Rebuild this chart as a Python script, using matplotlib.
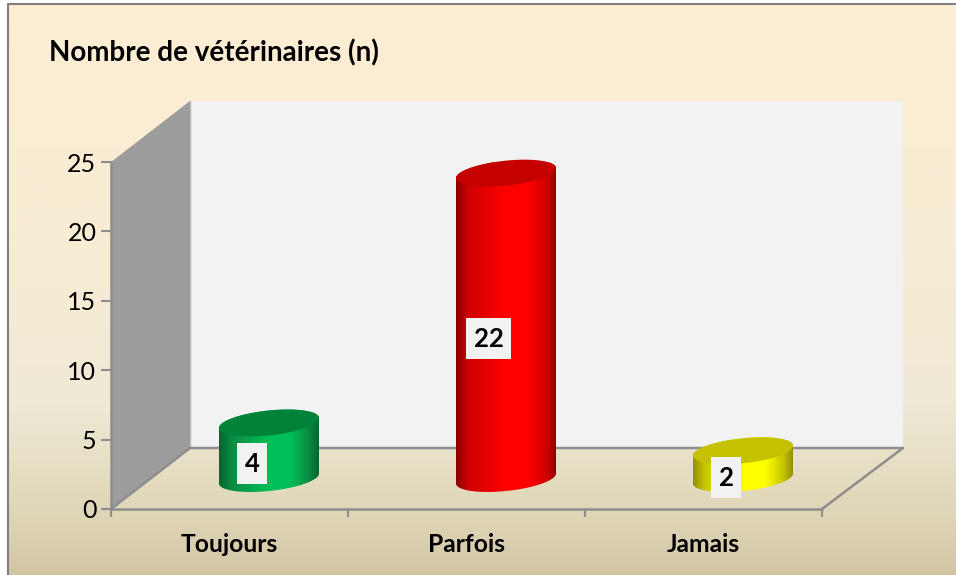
import numpy as np
import matplotlib
matplotlib.use('Agg')
import matplotlib.pyplot as plt
from matplotlib.colors import LinearSegmentedColormap
from matplotlib.patches import Polygon, Rectangle

plt.rcParams['font.family'] = ['Lato', 'DejaVu Sans']

categories = ['Toujours', 'Parfois', 'Jamais']
values = [4, 22, 2]
y_ticks = [0, 5, 10, 15, 20, 25]
title = 'Nombre de vétérinaires (n)'

bar_dark = ['#00662f', '#8a0000', '#8f8f00']
bar_mid = ['#0a8a42', '#d00000', '#c8c800']
bar_light = ['#00bf58', '#ff0000', '#ffff00']
bar_top = ['#008238', '#c40000', '#c5c000']

W, H = 956, 575
fig = plt.figure(figsize=(W / 100, H / 100), dpi=100, facecolor='white')

# background panel with its vertical gradient
bg = fig.add_axes([0, 0, 1, 1])
bg.set_xlim(0, W)
bg.set_ylim(H, 0)
bg.axis('off')
bg_cmap = LinearSegmentedColormap.from_list('bg', [
    (0.0, '#fdeed4'), (0.5, '#f6ecd4'), (0.7, '#efe9d6'),
    (0.8, '#e7e0c6'), (0.9, '#dfd5b7'), (1.0, '#d2c6a2')])
grad = np.linspace(0, 1, 256).reshape(-1, 1)
bg.imshow(grad, cmap=bg_cmap, extent=[8, W, H, 4], aspect='auto', zorder=1)
bg.set_xlim(0, W)
bg.set_ylim(H, 0)
bg.plot([8, 8, W], [H, 4, 4], color='#808080', lw=1.5, zorder=2)

# plot area: y axis 0-25 from pixel 509 to 162, x axis 111 to 822
left, right, bottom, top = 111, 822, 509, 162
ax = fig.add_axes([left / W, 1 - bottom / H, (right - left) / W, (bottom - top) / H])
ax.patch.set_visible(False)
px_x = (right - left) / len(categories)
px_y = (bottom - top) / y_ticks[-1]
dx = 79 / px_x
dx_right = 81 / px_x
dy = 61 / px_y
n = len(categories)
ymax = y_ticks[-1]

# walls and floor of the 3d box
ax.add_patch(Polygon([(0, 0), (dx, dy), (dx, ymax + dy), (0, ymax)], fc='#9c9c9c', ec='none', clip_on=False, zorder=1))
ax.add_patch(Polygon([(dx, dy), (n + dx_right, dy), (n + dx_right, ymax + dy), (dx, ymax + dy)], fc='#f2f2f2', ec='none', clip_on=False, zorder=1))
ax.plot([dx, dx], [dy, ymax + dy], color='#b8b8b8', lw=1, clip_on=False, zorder=2)
ax.plot([0, dx, n + dx_right, n], [0, dy, dy, 0], color='#8e8e8e', lw=1.8, clip_on=False, zorder=2)

# cylinders
a = 50 / px_x
b = 12.5 / px_y
shear = 0.1 * px_x / px_y
t = np.linspace(0, 2 * np.pi, 200)
for i, v in enumerate(values):
    cx = i + 0.5 + dx_right / 2 - 1 / px_x
    y0 = dy / 2
    yt = y0 + v
    front = np.linspace(np.pi, 2 * np.pi, 100)
    back = np.linspace(0, np.pi, 100)
    xs = np.r_[cx + a * np.cos(front), cx + a * np.cos(back)]
    ys = np.r_[y0 + shear * a * np.cos(front) + b * np.sin(front),
               yt + shear * a * np.cos(back) + b * np.sin(back)]
    outline = Polygon(np.c_[xs, ys], transform=ax.transData, fc='none', ec='none', clip_on=False)
    ax.add_patch(outline)
    cmap = LinearSegmentedColormap.from_list('c', [
        (0.0, bar_dark[i]), (0.12, bar_mid[i]), (0.5, bar_light[i]), (0.72, bar_light[i]),
        (0.9, bar_mid[i]), (1.0, bar_dark[i])])
    im = ax.imshow(np.linspace(0, 1, 256).reshape(1, -1), cmap=cmap, aspect='auto', zorder=3,
                   extent=[cx - a, cx + a, y0 - 2 * b, yt + 2 * b])
    im.set_clip_path(outline)
    ax.fill(cx + a * np.cos(t), yt + shear * a * np.cos(t) + b * np.sin(t), color=bar_top[i], lw=0, clip_on=False, zorder=4)

    # value label on its pale box
    lx = cx - 17 / px_x
    ly = y0 + v / 2 - 13 / px_y
    bw = (30 if v < 10 else 45) / px_x
    bh = 41 / px_y
    ax.add_patch(Rectangle((lx - bw / 2, ly - bh / 2), bw, bh, fc='#f2f2f2', ec='none', clip_on=False, zorder=5))
    ax.text(lx, ly, str(v), ha='center', va='center', fontsize=18.5, fontweight='bold', color='black', zorder=6)

ax.set_xlim(0, n)
ax.set_ylim(0, ymax)
for s in ['top', 'right']:
    ax.spines[s].set_visible(False)
for s in ['left', 'bottom']:
    ax.spines[s].set_color('#8e8e8e')
    ax.spines[s].set_linewidth(1.8)
    ax.spines[s].set_zorder(2.5)
ax.set_yticks(y_ticks)
ax.tick_params(axis='y', length=7.5, width=1.5, color='#8e8e8e', labelsize=18, pad=3)
ax.set_xticks(range(n + 1))
ax.set_xticklabels([])
ax.set_xticks(np.arange(n) + 0.5, minor=True)
ax.set_xticklabels(categories, minor=True, fontsize=17.7, fontweight='bold')
ax.tick_params(axis='x', which='major', length=6, width=1.5, color='#8e8e8e')
ax.tick_params(axis='x', which='minor', length=0, pad=17)

fig.text(49 / W, 1 - 53 / H, title, fontsize=20, fontweight='bold', va='center', ha='left', color='black')

fig.savefig('out.png', dpi=100)
